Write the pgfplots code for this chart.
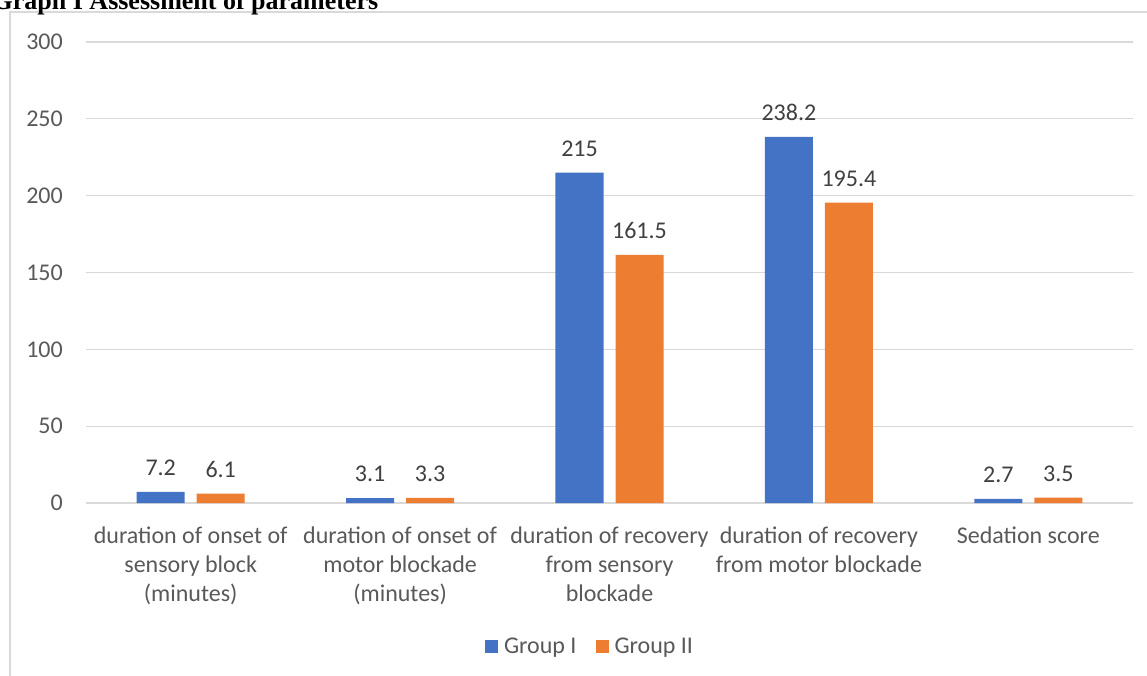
\documentclass[border=0pt]{standalone}
\usepackage{fontspec}
\setmainfont{Carlito}
\newfontfamily\titlefont{Liberation Serif}
\usepackage{pgfplots}
\pgfplotsset{compat=1.18}
\definecolor{gblue}{HTML}{4472C4}
\definecolor{gorange}{HTML}{ED7D31}
\definecolor{gridgray}{HTML}{D9D9D9}
\definecolor{labelgray}{HTML}{595959}
\definecolor{datagray}{HTML}{404040}
\begin{document}
\begin{tikzpicture}
\useasboundingbox (0,0) rectangle (1147pt,675pt);
\clip (0,0) rectangle (1147pt,675pt);
% chart frame
\draw[gridgray, line width=1.5pt] (10pt,-5pt) -- (10pt,663pt) -- (1160pt,663pt);
% title (partly cut off)
\node[anchor=base west, inner sep=0pt, font=\titlefont\bfseries\fontsize{26}{30}\selectfont] at (-7.5pt,665pt) {Graph I Assessment of parameters};
\begin{axis}[
  at={(86pt,172pt)}, anchor=south west,
  scale only axis, width=1047pt, height=461pt,
  xmin=-0.5, xmax=4.5, ymin=0, ymax=300,
  ybar=12pt, bar width=48pt,
  axis line style={draw=none},
  ymajorgrids, grid style={color=gridgray, line width=1.3pt},
  ytick={0,50,...,300},
  xtick={0,...,4},
  xticklabels={{duration of onset of\\sensory block\\(minutes)},{duration of onset of\\motor blockade\\(minutes)},{duration of recovery\\from sensory\\blockade},{duration of recovery\\from motor blockade},{Sedation score}},
  major tick length=0pt,
  /pgf/number format/assume math mode=true,
  tick label style={font=\fontsize{24}{29}\selectfont, text=labelgray},
  yticklabel style={anchor=east, inner sep=0pt, xshift=-23pt},
  xticklabel style={anchor=north, align=center, inner sep=0pt, yshift=-24pt},
  nodes near coords,
  every node near coord/.append style={font=\fontsize{24}{29}\selectfont, text=datagray, inner sep=0pt, anchor=south, yshift=16pt},
  legend columns=2,
  legend style={draw=none, at={(0.4814,-0.3102)}, anchor=center, font=\fontsize{24}{29}\selectfont, text=labelgray,
    /tikz/every odd column/.append style={column sep=4pt},
    /tikz/every even column/.append style={column sep=17pt}},
  legend image code/.code={\fill[#1] (0pt,-6.5pt) rectangle (13pt,6.5pt);},
]
\addplot[fill=gblue, draw=none] coordinates {(0,7.2) (1,3.1) (2,215) (3,238.2) (4,2.7)};
\addplot[fill=gorange, draw=none] coordinates {(0,6.1) (1,3.3) (2,161.5) (3,195.4) (4,3.5)};
\legend{Group I, Group II}
\end{axis}
\end{tikzpicture}
\end{document}
